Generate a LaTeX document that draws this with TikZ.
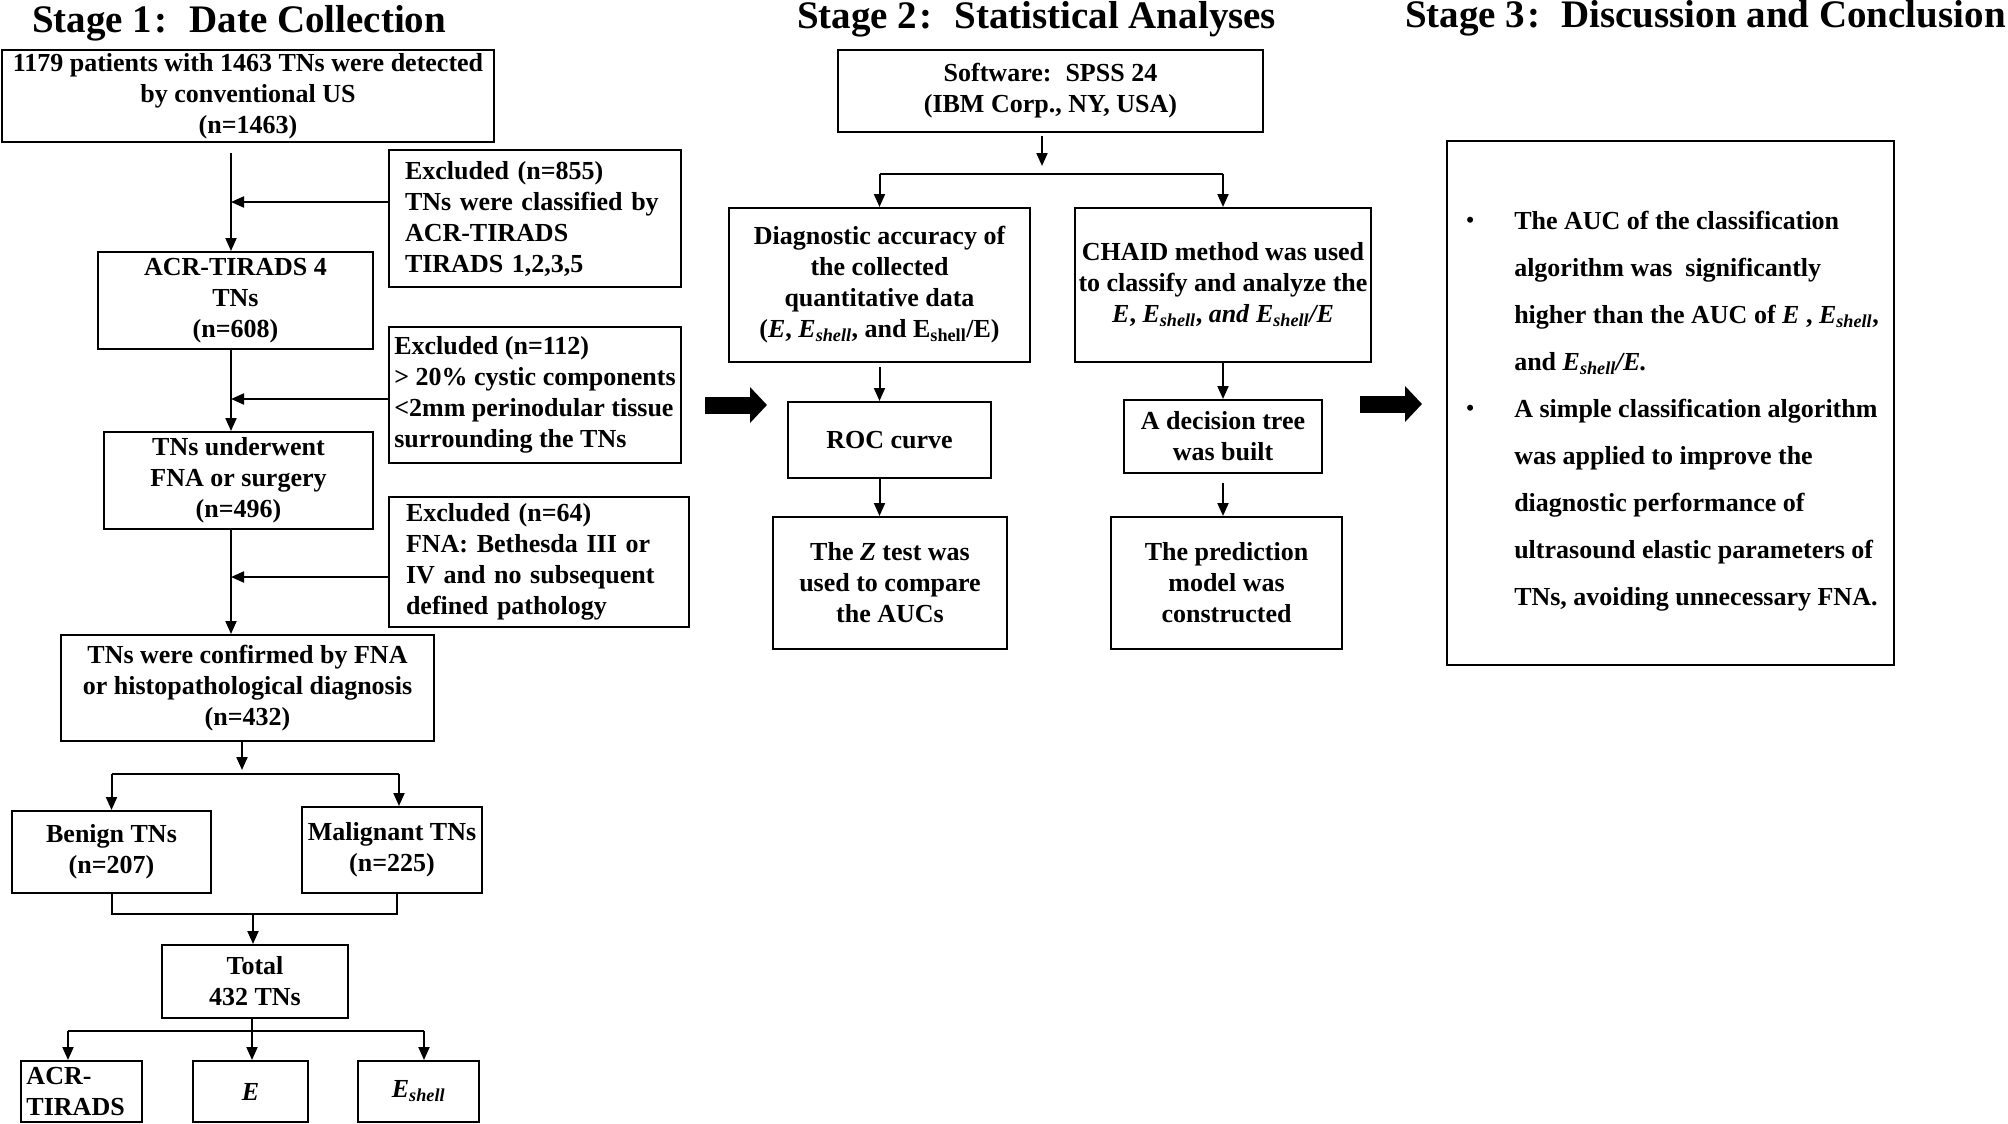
\documentclass[tikz,border=0pt]{standalone}
\usepackage{fontspec}
\setmainfont{Liberation Serif}
\usetikzlibrary{arrows.meta}

\newcommand{\Esh}{\textit{E}\textsubscript{\textit{shell}}}
\newcommand{\blt}{\makebox[52pt][l]{\hspace*{4pt}\raisebox{2pt}{\fontsize{22}{22}\selectfont\textbullet}}}
\newcommand{\ind}{\hspace*{52pt}}

\begin{document}
\begin{tikzpicture}[x=1pt,y=-1pt,
    box/.style={draw, line width=2pt, inner sep=2pt, align=center,
      font=\fontsize{26}{31}\selectfont\bfseries},
    exbox/.style={box, align=left},
    stagetitle/.style={anchor=base west, inner sep=0pt,
      font=\fontsize{39}{39}\selectfont\bfseries},
    arr/.style={line width=2pt, -{Triangle[length=13pt,width=11pt]}},
    link/.style={line width=2pt},
    fat/.style={line width=17pt, -{Triangle[length=17pt,width=35pt]}}]

  \useasboundingbox (0,0) rectangle (2008,1124);

  % Stage titles
  \node[stagetitle] (t1) at (32,33) {Stage 1\kern2pt:\hspace{22pt}Date Collection};
  \node[stagetitle] (t2) at (797,29) {Stage 2\kern2pt:\hspace{22pt}Statistical Analyses};
  \node[stagetitle] (t3) at (1405,28) {Stage 3\kern2pt:\hspace{21pt}Discussion and Conclusion};

  % Stage 1 boxes
  \node[box, minimum width=492pt, minimum height=92pt] (box1) at (248,96)
    {1179 patients with 1463 TNs were detected\\by conventional US\\(n=1463)};
  \node[box, minimum width=275pt, minimum height=97pt] (box2) at (235.5,300.5)
    {ACR-TIRADS 4\\TNs\\(n=608)};
  \node[box, minimum width=269pt, minimum height=97pt] (box3) at (238.5,480.5)
    {TNs underwent\\FNA or surgery\\(n=496)};
  \node[box, minimum width=373pt, minimum height=106pt] (box4) at (247.5,688)
    {TNs were confirmed by FNA\\or histopathological diagnosis\\(n=432)};
  \node[exbox, text width=260pt, minimum width=292pt, minimum height=137pt] (exc1) at (535,218.5)
    {Excluded (n=855)\\TNs were classified by\\ACR-TIRADS\\TIRADS 1,2,3,5};
  \node[exbox, minimum width=292pt, minimum height=136pt] (exc2) at (535,395)
    {Excluded (n=112)\\> 20\% cystic components\\<2mm perinodular tissue\\surrounding the TNs};
  \node[exbox, text width=266pt, minimum width=300pt, minimum height=130pt] (exc3) at (539,562)
    {Excluded (n=64)\\FNA: Bethesda III or\\IV and no subsequent\\defined pathology};
  \node[box, minimum width=199pt, minimum height=82pt] (ben) at (111.5,852)
    {Benign TNs\\(n=207)};
  \node[box, minimum width=180pt, minimum height=86pt] (mal) at (392,850)
    {Malignant TNs\\(n=225)};
  \node[box, minimum width=186pt, minimum height=73pt] (total) at (255,981.5)
    {Total\\432 TNs};
  \node[exbox, text width=110pt, minimum width=121pt, minimum height=61pt] (acr) at (81.5,1091.5)
    {ACR-\\TIRADS};
  \node[box, minimum width=115pt, minimum height=61pt] (eval) at (250.5,1091.5) {\textit{E}};
  \node[box, minimum width=121pt, minimum height=61pt] (esh) at (418.5,1091.5) {\Esh};

  % Stage 1 connectors
  \coordinate (spine) at (231,0);
  \draw[arr, shorten <=10pt] (spine |- box1.south) -- (spine |- box2.north);
  \draw[arr] (spine |- box2.south) -- (spine |- box3.north);
  \draw[arr] (spine |- box3.south) -- (spine |- box4.north);
  \coordinate (e1) at ([yshift=16.5pt]exc1.west);
  \coordinate (e2) at ([yshift=-4pt]exc2.west);
  \coordinate (e3) at ([yshift=-15pt]exc3.west);
  \draw[arr] (e1) -- (e1 -| spine);
  \draw[arr] (e2) -- (e2 -| spine);
  \draw[arr] (e3) -- (e3 -| spine);

  \coordinate (split1) at (242,774);
  \coordinate (malin) at ([xshift=7pt]mal.north);
  \coordinate (malout) at ([xshift=5pt]mal.south);
  \draw[arr, shorten >=4pt] (split1 |- box4.south) -- (split1);
  \draw[link] (split1 -| ben.north) -- (split1 -| malin);
  \draw[arr] (split1 -| ben.north) -- (ben.north);
  \draw[arr] (split1 -| malin) -- (malin);

  \coordinate (join1) at (253,914);
  \draw[link] (ben.south) -- (ben.south |- join1) -- (malout |- join1) -- (malout);
  \draw[arr] (join1) -- (join1 |- total.north);

  \coordinate (split2) at (252,1031);
  \coordinate (acrin) at ([xshift=-13.5pt]acr.north);
  \coordinate (eshin) at ([xshift=5.5pt]esh.north);
  \draw[arr] (split2 |- total.south) -- (split2 |- eval.north);
  \draw[link] (acrin |- split2) -- (eshin |- split2);
  \draw[arr] (acrin |- split2) -- (acrin);
  \draw[arr] (eshin |- split2) -- (eshin);

  % Stage 2 boxes
  \node[box, minimum width=425pt, minimum height=82pt] (soft) at (1050.5,91)
    {Software:\hspace{14pt}SPSS 24\\(IBM Corp., NY, USA)};
  \node[box, minimum width=301pt, minimum height=154pt] (diag) at (879.5,285)
    {Diagnostic accuracy of\\the collected\\quantitative data\\(\textit{E}, \Esh, and E\textsubscript{shell}/E)};
  \node[box, minimum width=296pt, minimum height=154pt, inner sep=0pt] (chaid) at (1223,285)
    {CHAID method was used\\to classify and analyze the\\\textit{E}, \Esh, \textit{and} \Esh\textit{/E}};
  \node[box, minimum width=203pt, minimum height=76pt] (roc) at (889.5,440) {ROC curve};
  \node[box, minimum width=234pt, minimum height=132pt] (ztest) at (890,583)
    {The \textit{Z} test was\\used to compare\\the AUCs};
  \node[box, minimum width=198pt, minimum height=73pt] (tree) at (1223,436.5)
    {A decision tree\\was built};
  \node[box, minimum width=231pt, minimum height=132pt] (pred) at (1226.5,583)
    {The prediction\\model was\\constructed};

  % Stage 2 connectors
  \coordinate (split3) at (1042,174);
  \draw[arr, shorten <=3pt, shorten >=8pt] (split3 |- soft.south) -- (split3);
  \draw[link] (split3 -| diag.north) -- (split3 -| chaid.north);
  \draw[arr] (split3 -| diag.north) -- (diag.north);
  \draw[arr] (split3 -| chaid.north) -- (chaid.north);
  \draw[arr, shorten <=4pt] (diag.south) -- (diag.south |- roc.north);
  \draw[arr] (diag.south |- roc.south) -- (diag.south |- ztest.north);
  \draw[arr] (chaid.south) -- (chaid.south |- tree.north);
  \draw[arr, shorten <=9pt] (tree.south) -- (tree.south |- pred.north);

  % Stage 3 box
  \node[box, align=left, minimum width=447pt, minimum height=524pt,
    font=\fontsize{26}{47}\selectfont\bfseries] (concl) at (1670.5,403)
    {\rule{0pt}{34pt}\blt The AUC of the classification\\
     \ind algorithm was\ \ significantly\\
     \ind higher than the AUC of \textit{E} , \Esh,\\
     \ind and \Esh\textit{/E.}\\
     \blt A simple classification algorithm\\
     \ind was applied to improve the\\
     \ind diagnostic performance of\\
     \ind ultrasound elastic parameters of\\
     \ind TNs, avoiding unnecessary FNA.};

  % Block arrows between the stages
  \coordinate (f1a) at (705,405);
  \coordinate (f1b) at (767,405);
  \coordinate (f2a) at (1360,404);
  \coordinate (f2b) at (1422,404);
  \draw[fat] (f1a) -- (f1b);
  \draw[fat] (f2a) -- (f2b);
\end{tikzpicture}
\end{document}
